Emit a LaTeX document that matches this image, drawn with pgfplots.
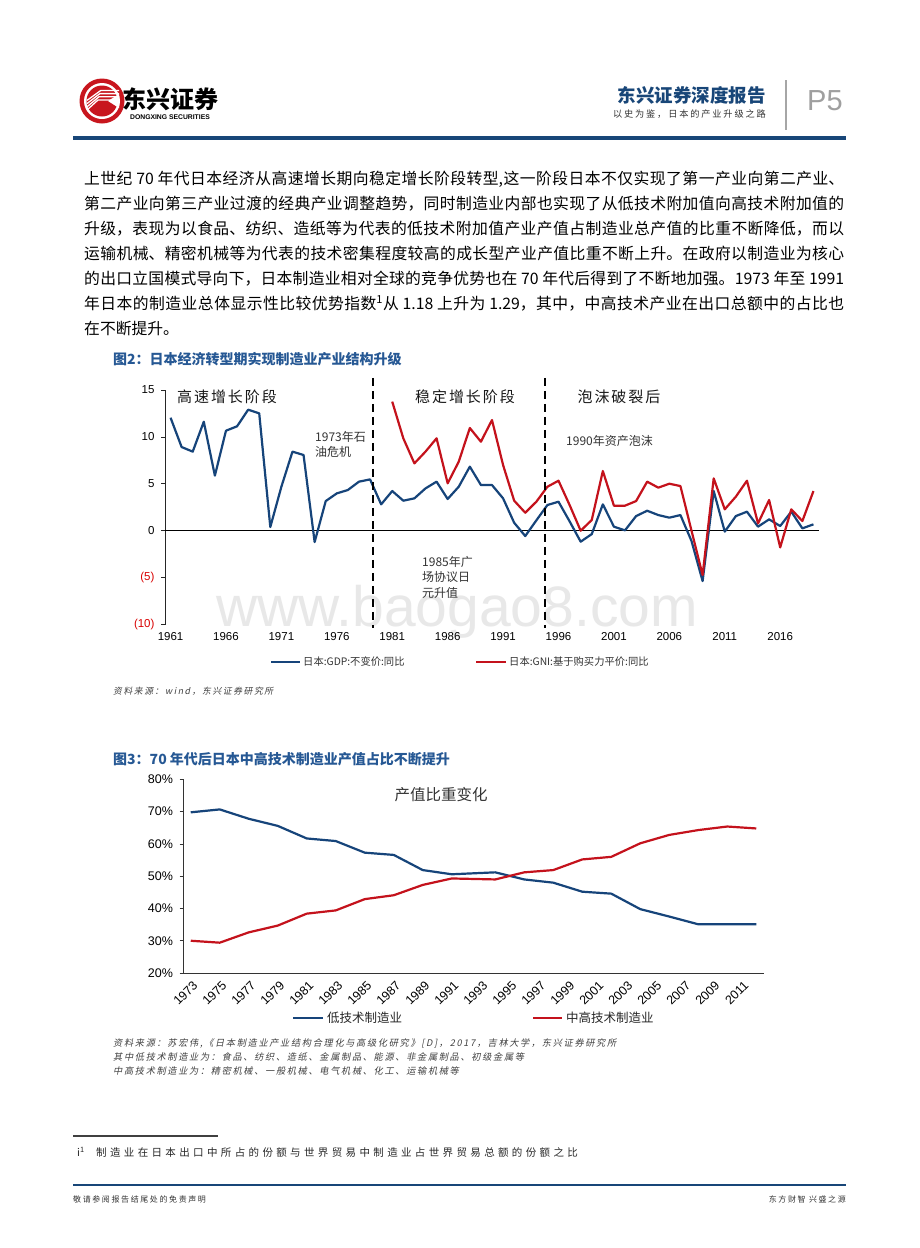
\documentclass[border=0pt]{standalone}
\usepackage{pgfplots}
\pgfplotsset{compat=1.18}
\usepackage{pgfplotstable}
\usepackage{fontspec}
\setmainfont{Liberation Sans}
\newfontfamily\cjk{Noto Sans CJK SC}
\newfontfamily\cjkls[LetterSpace=13]{Noto Sans CJK SC}
\newfontfamily\cjksub[LetterSpace=20]{Noto Sans CJK SC}
\newfontfamily\cjkit[FakeSlant=0.2,LetterSpace=18]{Noto Sans CJK SC}
\newfontfamily\cjkfn[LetterSpace=32]{Noto Sans CJK SC}
\XeTeXlinebreaklocale "zh"
\XeTeXlinebreakskip=0pt plus 3pt
\definecolor{dxblue}{RGB}{22,68,122}
\definecolor{dxred}{RGB}{196,18,28}
\definecolor{ttlblue}{RGB}{38,88,148}
\definecolor{logored}{RGB}{200,22,30}
\definecolor{hdrblue}{RGB}{24,70,120}

\pgfplotstableread{
year val
1961 12.05
1962 8.92
1963 8.43
1964 11.62
1965 5.87
1966 10.66
1967 11.13
1968 12.9
1969 12.51
1970 0.39
1971 4.69
1972 8.43
1973 8.07
1974 -1.21
1975 3.16
1976 3.98
1977 4.34
1978 5.23
1979 5.47
1980 2.81
1981 4.23
1982 3.2
1983 3.45
1984 4.51
1985 5.23
1986 3.38
1987 4.69
1988 6.83
1989 4.87
1990 4.87
1991 3.45
1992 0.85
1993 -0.57
1994 1.1
1995 2.74
1996 3.09
1997 1.0
1998 -1.17
1999 -0.36
2000 2.81
2001 0.43
2002 0.04
2003 1.56
2004 2.13
2005 1.67
2006 1.39
2007 1.67
2008 -1.1
2009 -5.37
2010 4.23
2011 -0.1
2012 1.56
2013 2.03
2014 0.43
2015 1.21
2016 0.5
2017 2.03
2018 0.25
2019 0.68
}\gdptable

\pgfplotstableread{
year val
1981 13.76
1982 9.85
1983 7.18
1984 8.43
1985 9.85
1986 5.05
1987 7.36
1988 10.95
1989 9.49
1990 11.8
1991 7.0
1992 3.2
1993 1.92
1994 3.09
1995 4.69
1996 5.33
1997 2.74
1998 0.0
1999 1.14
2000 6.36
2001 2.67
2002 2.67
2003 3.16
2004 5.23
2005 4.59
2006 5.01
2007 4.76
2008 0.0
2009 -4.73
2010 5.58
2011 2.28
2012 3.63
2013 5.33
2014 0.78
2015 3.27
2016 -1.78
2017 2.28
2018 1.03
2019 4.23
}\gnitable

\pgfplotstableread{
year val
1973 69.8
1975 70.7
1977 67.8
1979 65.6
1981 61.7
1983 60.9
1985 57.3
1987 56.6
1989 51.9
1991 50.6
1994 51.2
1996 49.0
1998 48.0
2000 45.2
2002 44.6
2004 39.8
2006 37.5
2008 35.1
2010 35.1
2012 35.1
}\lowtable

\pgfplotstableread{
year val
1973 30.0
1975 29.4
1977 32.6
1979 34.7
1981 38.4
1983 39.4
1985 42.9
1987 44.1
1989 47.3
1991 49.3
1994 49.0
1996 51.2
1998 51.9
2000 55.2
2002 56.0
2004 60.2
2006 62.8
2008 64.3
2010 65.4
2012 64.8
}\hightable

\begin{document}
\begin{tikzpicture}[x=1pt,y=-1pt]
\fill[white] (0,0) rectangle (920,1248);

% ---------- header ----------
\fill[logored] (102,101) circle (22.5);
\fill[white] (102,101) circle (18);
\fill[logored] (102,101) circle (15.5);
\foreach \d in {0,3.2,6.4,9.6}{
  \draw[white, line width=1.3pt] (87,{110-\d}) -- ({98+\d*0.3},{100-\d}) -- (119,{100-\d});
}
\fill[white] (108,101) -- (119,94) -- (119,108) -- cycle;
\node[anchor=center, inner sep=0pt, font=\cjk\bfseries\fontsize{24}{24}\selectfont] at (170,99) {东兴证券};
\node[anchor=center, inner sep=0pt, font=\bfseries\fontsize{6.8}{7}\selectfont] at (170,117) {DONGXING SECURITIES};

\node[anchor=east, inner sep=0pt, text=hdrblue, font=\cjk\bfseries\fontsize{18.5}{19}\selectfont] at (766,95) {东兴证券深度报告};
\node[anchor=east, inner sep=0pt, text=black!80, font=\cjksub\fontsize{9.2}{10}\selectfont] at (766,114) {以史为鉴，日本的产业升级之路};
\draw[gray!70, line width=1.3pt] (786,80) -- (786,130);
\node[anchor=west, inner sep=0pt, text=gray!75, font=\fontsize{29}{29}\selectfont] at (807,101) {P5};
\draw[hdrblue, line width=3.5pt] (73,138) -- (846,138);

% ---------- paragraph ----------
\node[anchor=north west, inner sep=0pt, text width=760pt, align=justify,
      font=\cjk\fontsize{15.8}{25}\selectfont] at (84,170.5) {%
上世纪 70 年代日本经济从高速增长期向稳定增长阶段转型,这一阶段日本不仅实现了第一产业向第二产业、\linebreak
第二产业向第三产业过渡的经典产业调整趋势，同时制造业内部也实现了从低技术附加值向高技术附加值的\linebreak
升级，表现为以食品、纺织、造纸等为代表的低技术附加值产业产值占制造业总产值的比重不断降低，而以\linebreak
运输机械、精密机械等为代表的技术密集程度较高的成长型产业产值比重不断上升。在政府以制造业为核心\linebreak
的出口立国模式导向下，日本制造业相对全球的竞争优势也在 70 年代后得到了不断地加强。1973 年至 1991\linebreak
年日本的制造业总体显示性比较优势指数\textsuperscript{1}从 1.18 上升为 1.29，其中，中高技术产业在出口总额中的占比也\linebreak
在不断提升。};

% ---------- chart 1 ----------
\node[anchor=west, inner sep=0pt, text=ttlblue, font=\cjk\bfseries\fontsize{14}{14}\selectfont] at (113,359) {图2：日本经济转型期实现制造业产业结构升级};

\node[anchor=base west, inner sep=0pt, text=black!9, font=\fontsize{57}{57}\selectfont] at (216,626) {www.baogao8.com};

\begin{axis}[
  at={(165pt,-624.5pt)}, anchor=south west,
  scale only axis, width=654pt, height=234.5pt,
  xmin=1960.5, xmax=2019.5, ymin=-10, ymax=15,
  axis x line*=bottom, axis y line*=left,
  x axis line style={draw=none},
  y axis line style={-, line width=1pt, black!85},
  xtick={1961,1966,...,2016},
  xticklabels={1961,1966,1971,1976,1981,1986,1991,1996,2001,2006,2011,2016},
  xtick style={draw=none},
  ytick={-10,-5,0,5,10,15},
  yticklabels={{\textcolor{red!85!black}{(10)}},{\textcolor{red!85!black}{(5)}},0,5,10,15},
  ytick style={line width=0.8pt, black!85},
  tick align=outside, major tick length=4pt,
  ticklabel style={font=\fontsize{11.5}{12}\selectfont},
  yticklabel style={xshift=-3pt},
  clip=false,
]
\draw[black, line width=0.9pt] (axis cs:1960.5,0) -- (axis cs:2019.5,0);
\addplot[dxblue, line width=2.2pt, line join=round] table[x=year,y=val]{\gdptable};
\addplot[dxred, line width=2.2pt, line join=round] table[x=year,y=val]{\gnitable};
\draw[black, line width=2pt, dash pattern=on 8pt off 5pt] (axis cs:1979.3,16.3) -- (axis cs:1979.3,-10.4);
\draw[black, line width=2pt, dash pattern=on 8pt off 5pt] (axis cs:1994.8,16.3) -- (axis cs:1994.8,-10.4);
\end{axis}

\node[anchor=center, inner sep=0pt, text=black!90, font=\cjkls\fontsize{15}{15}\selectfont] at (227,397) {高速增长阶段};
\node[anchor=center, inner sep=0pt, text=black!90, font=\cjkls\fontsize{15}{15}\selectfont] at (465,397) {稳定增长阶段};
\node[anchor=center, inner sep=0pt, text=black!90, font=\cjkls\fontsize{15}{15}\selectfont] at (619,397) {泡沫破裂后};

\node[anchor=north west, inner sep=0pt, align=left, text=black!80, font=\cjk\fontsize{12}{15}\selectfont] at (315,431) {1973年石\\油危机};
\node[anchor=north west, inner sep=0pt, align=left, text=black!80, font=\cjk\fontsize{12}{15.5}\selectfont] at (422,556) {1985年广\\场协议日\\元升值};
\node[anchor=west, inner sep=0pt, text=black!80, font=\cjk\fontsize{12}{15}\selectfont] at (566,441) {1990年资产泡沫};

\draw[dxblue, line width=2.5pt] (271,662) -- (300,662);
\node[anchor=west, inner sep=0pt, text=black!80, font=\cjk\fontsize{10.3}{11}\selectfont] at (303,662) {日本:GDP:不变价:同比};
\draw[dxred, line width=2.5pt] (476,662) -- (506,662);
\node[anchor=west, inner sep=0pt, text=black!80, font=\cjk\fontsize{10.3}{11}\selectfont] at (509,662) {日本:GNI:基于购买力平价:同比};

\node[anchor=west, inner sep=0pt, text=black!75, font=\cjkit\fontsize{8.8}{9}\selectfont] at (113,691) {资料来源：wind，东兴证券研究所};

% ---------- chart 2 ----------
\node[anchor=west, inner sep=0pt, text=ttlblue, font=\cjk\bfseries\fontsize{14}{14}\selectfont] at (113,759) {图3：70 年代后日本中高技术制造业产值占比不断提升};

\begin{axis}[
  at={(183.5pt,-973pt)}, anchor=south west,
  scale only axis, width=580pt, height=193.6pt,
  xmin=1972.5, xmax=2012.5, ymin=20, ymax=80,
  axis x line*=bottom, axis y line*=left,
  axis line style={-, line width=1pt, black!80},
  xtick={1973,1975,...,2011},
  xticklabels={1973,1975,1977,1979,1981,1983,1985,1987,1989,1991,1993,1995,1997,1999,2001,2003,2005,2007,2009,2011},
  xtick style={draw=none},
  ytick={20,30,40,50,60,70,80},
  yticklabels={20\%,30\%,40\%,50\%,60\%,70\%,80\%},
  ytick style={line width=0.8pt, black!80},
  tick align=outside, major tick length=4pt,
  ticklabel style={font=\fontsize{12.5}{13}\selectfont},
  yticklabel style={xshift=-3pt},
  xticklabel style={rotate=45, anchor=north east, inner sep=1pt, yshift=-2pt},
  clip=false,
]
\addplot[dxblue, line width=2.2pt, line join=round] table[x=year,y=val]{\lowtable};
\addplot[dxred, line width=2.2pt, line join=round] table[x=year,y=val]{\hightable};
\end{axis}

\node[anchor=center, inner sep=0pt, text=black!80, font=\cjk\fontsize{15.5}{16}\selectfont] at (441,795) {产值比重变化};

\draw[dxblue, line width=2.5pt] (293,1018) -- (323,1018);
\node[anchor=west, inner sep=0pt, text=black!85, font=\cjk\fontsize{12.5}{13}\selectfont] at (327,1018) {低技术制造业};
\draw[dxred, line width=2.5pt] (533,1018) -- (562,1018);
\node[anchor=west, inner sep=0pt, text=black!85, font=\cjk\fontsize{12.5}{13}\selectfont] at (566,1018) {中高技术制造业};

\node[anchor=west, inner sep=0pt, text=black!75, font=\cjkit\fontsize{9.2}{10}\selectfont] at (113,1043) {资料来源：苏宏伟,《日本制造业产业结构合理化与高级化研究》[D]，2017，吉林大学，东兴证券研究所};
\node[anchor=west, inner sep=0pt, text=black!75, font=\cjkit\fontsize{9.2}{10}\selectfont] at (113,1057) {其中低技术制造业为：食品、纺织、造纸、金属制品、能源、非金属制品、初级金属等};
\node[anchor=west, inner sep=0pt, text=black!75, font=\cjkit\fontsize{9.2}{10}\selectfont] at (113,1071) {中高技术制造业为：精密机械、一般机械、电气机械、化工、运输机械等};

% ---------- footnote & footer ----------
\draw[black!75, line width=1.5pt] (73,1136) -- (218,1136);
\node[anchor=west, inner sep=0pt, text=black!85, font=\cjk\fontsize{10.5}{11}\selectfont] at (77,1152) {i\textsuperscript{1}};
\node[anchor=west, inner sep=0pt, text=black!85, font=\cjkfn\fontsize{10.5}{11}\selectfont] at (96,1152) {制造业在日本出口中所占的份额与世界贸易中制造业占世界贸易总额的份额之比};
\draw[hdrblue, line width=1.2pt] (73,1185) -- (846,1185);
\node[anchor=west, inner sep=0pt, text=black!80, font=\cjksub\fontsize{8}{9}\selectfont] at (73,1199) {敬请参阅报告结尾处的免责声明};
\node[anchor=east, inner sep=0pt, text=black!80, font=\cjksub\fontsize{8}{9}\selectfont] at (846,1199) {东方财智 兴盛之源};
\end{tikzpicture}
\end{document}
